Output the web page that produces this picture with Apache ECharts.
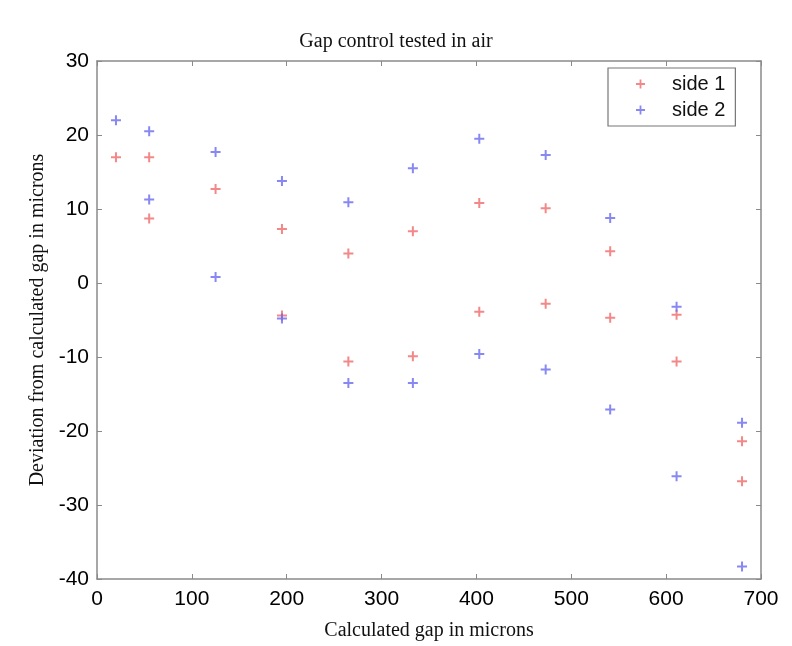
<!DOCTYPE html>
<html><head><meta charset="utf-8">
<script src="https://cdn.jsdelivr.net/npm/echarts@6/dist/echarts.min.js"></script>
<style>html,body{margin:0;padding:0;background:#fff}#c{width:792px;height:646px}</style>
</head><body><div id="c"></div>
<script>
var side1X = [20, 55, 55, 125, 195, 195, 265, 265, 333, 333, 403, 403, 473, 473, 541, 541, 611, 611, 680, 680];
var side1Y = [17.0, 17.0, 8.7, 12.7, 7.3, -4.4, 4.0, -10.6, 7.0, -9.9, 10.8, -3.9, 10.1, -2.8, 4.3, -4.7, -4.3, -10.6, -21.4, -26.8];
var side2X = [20, 55, 55, 125, 125, 195, 195, 265, 265, 333, 333, 403, 403, 473, 473, 541, 541, 611, 611, 680, 680];
var side2Y = [22.0, 20.5, 11.3, 17.7, 0.8, 13.8, -4.8, 10.9, -13.5, 15.5, -13.5, 19.5, -9.6, 17.3, -11.7, 8.8, -17.1, -3.2, -26.1, -18.9, -38.3];
var xTicks = [0, 100, 200, 300, 400, 500, 600, 700];
var yTicks = [-40, -30, -20, -10, 0, 10, 20, 30];
var titleText = 'Gap control tested in air';
var xLabel = 'Calculated gap in microns';
var yLabel = 'Deviation from calculated gap in microns';
var seriesNames = ['side 1', 'side 2'];

function pairs(xs, ys) { return xs.map(function (x, i) { return [x, ys[i]]; }); }
var plus = 'path://M4,0H6V4H10V6H6V10H4V6H0V4H4Z';
var frame = { show: true, onZero: false, lineStyle: { color: '#8a8a8a', width: 1.5 } };
var tickStyle = { show: true, inside: true, length: 5, lineStyle: { color: '#8a8a8a', width: 1 } };
var lbl = { color: '#000', fontFamily: 'Liberation Sans, Arial, sans-serif', fontSize: 21 };

var chart = echarts.init(document.getElementById('c'));
chart.setOption({
  animation: false,
  backgroundColor: '#fff',
  title: { text: titleText, left: 'center', top: 27, textStyle: { fontFamily: 'Liberation Serif, Times New Roman, serif', fontWeight: 'normal', fontSize: 20, color: '#111' } },
  grid: { left: 97, right: 31, top: 61, bottom: 64, containLabel: false },
  legend: {
    orient: 'vertical', left: 608, top: 68, width: 144,
    data: seriesNames,
    backgroundColor: '#fff', borderColor: '#777', borderWidth: 1.2,
    padding: [6, 10, 6, 28], itemGap: 6, itemWidth: 9, itemHeight: 9,
    textStyle: { fontFamily: 'Liberation Sans, Arial, sans-serif', fontSize: 20, color: '#111', padding: [0, 0, 0, 22] }
  },
  xAxis: [
    { type: 'value', min: 0, max: 700, interval: 100, axisLine: frame, axisTick: tickStyle, splitLine: { show: false },
      axisLabel: Object.assign({ margin: 10 }, lbl),
      name: xLabel, nameLocation: 'middle', nameGap: 42,
      nameTextStyle: { fontFamily: 'Liberation Serif, Times New Roman, serif', fontSize: 20, color: '#111' } },
    { type: 'value', position: 'top', min: 0, max: 700, interval: 100, axisLine: frame, axisTick: tickStyle, axisLabel: { show: false }, splitLine: { show: false } }
  ],
  yAxis: [
    { type: 'value', min: -40, max: 30, interval: 10, axisLine: frame, axisTick: tickStyle, splitLine: { show: false },
      axisLabel: Object.assign({ margin: 8 }, lbl),
      name: yLabel, nameLocation: 'middle', nameGap: 48, nameRotate: 90,
      nameTextStyle: { fontFamily: 'Liberation Serif, Times New Roman, serif', fontSize: 20, color: '#111' } },
    { type: 'value', position: 'right', min: -40, max: 30, interval: 10, axisLine: frame, axisTick: tickStyle, axisLabel: { show: false }, splitLine: { show: false } }
  ],
  series: [
    { name: seriesNames[0], type: 'scatter', symbol: plus, symbolSize: 10, itemStyle: { color: '#f06a6a' }, data: pairs(side1X, side1Y) },
    { name: seriesNames[1], type: 'scatter', symbol: plus, symbolSize: 10, itemStyle: { color: '#6a6af0' }, data: pairs(side2X, side2Y) }
  ]
});
</script></body></html>
